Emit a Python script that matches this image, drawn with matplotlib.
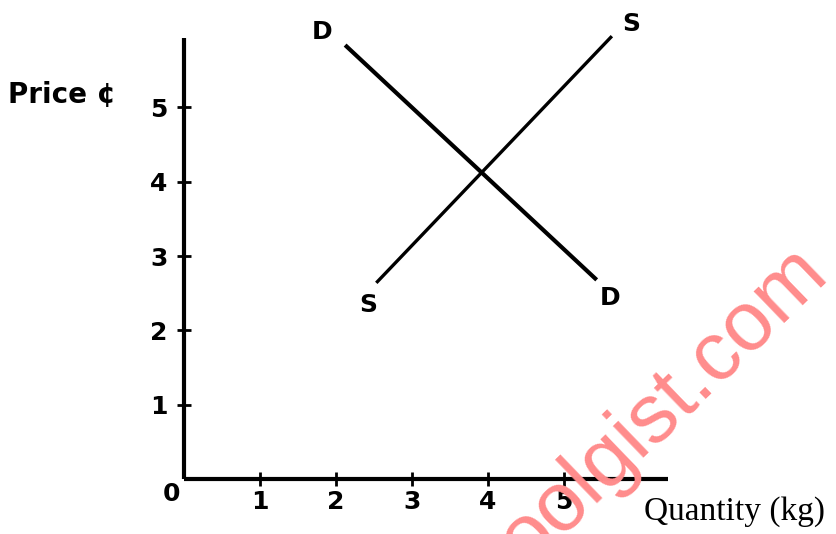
import matplotlib
matplotlib.use("Agg")
import matplotlib.pyplot as plt

# Data
x_ticks = [1, 2, 3, 4, 5]
y_ticks = [1, 2, 3, 4, 5]
demand_x = [2.12, 5.43]
demand_y = [5.84, 2.68]
supply_x = [2.53, 5.63]
supply_y = [2.64, 5.96]
x_axis_end = 6.37
y_axis_end = 5.94

W, H = 837, 534
ox, oy = 184, 479          # origin in pixels (from top-left)
ux, uy = 76.0, 74.3        # pixels per unit

fig = plt.figure(figsize=(W / 100, H / 100), dpi=100)
ax = fig.add_axes([ox / W, (H - oy) / H, 1 - ox / W, oy / H])
ax.set_xlim(0, (W - ox) / ux)
ax.set_ylim(0, oy / uy)

for s in ["top", "right"]:
    ax.spines[s].set_visible(False)
for s in ["bottom", "left"]:
    ax.spines[s].set_linewidth(3)
    ax.spines[s].set_color("black")
    ax.spines[s].set_capstyle("butt")
ax.spines["bottom"].set_bounds(0, x_axis_end)
ax.spines["left"].set_bounds(0, y_axis_end)

ax.set_xticks(x_ticks)
ax.set_yticks(y_ticks)
ax.set_xticklabels([str(v) for v in x_ticks])
ax.set_yticklabels([str(v) for v in y_ticks])
ax.tick_params(axis="both", direction="inout", length=10, width=2, colors="black",
               labelsize=18)
ax.tick_params(axis="x", pad=3)
ax.tick_params(axis="y", pad=7)
for lab in ax.get_xticklabels() + ax.get_yticklabels():
    lab.set_fontweight("bold")

ax.text(-0.16, -0.2, "0", fontsize=18, fontweight="bold", ha="center", va="center")

ax.plot(demand_x, demand_y, color="black", lw=3.0, solid_capstyle="butt")
ax.plot(supply_x, supply_y, color="black", lw=2.4, solid_capstyle="butt")

lab_kw = dict(fontsize=18, fontweight="bold", ha="center", va="center")
ax.text(1.82, 6.02, "D", **lab_kw)
ax.text(5.89, 6.13, "S", **lab_kw)
ax.text(2.42, 2.34, "S", **lab_kw)
ax.text(5.61, 2.44, "D", **lab_kw)

ax.text(-1.6, 5.17, "Price ¢", fontsize=20, fontweight="bold", ha="center",
        va="center", clip_on=False)
ax.text(7.24, -0.44, "Quantity (kg)", fontsize=24, family="Liberation Serif",
        ha="center", va="center", clip_on=False)

# watermark
fig.text(830 / W, (H - 276) / H, "oolgist.com", fontsize=60, family="Liberation Sans",
         color="#ff8c8c", rotation=44, rotation_mode="anchor", ha="right",
         va="baseline")

fig.savefig("out.png", dpi=100, facecolor="white")
